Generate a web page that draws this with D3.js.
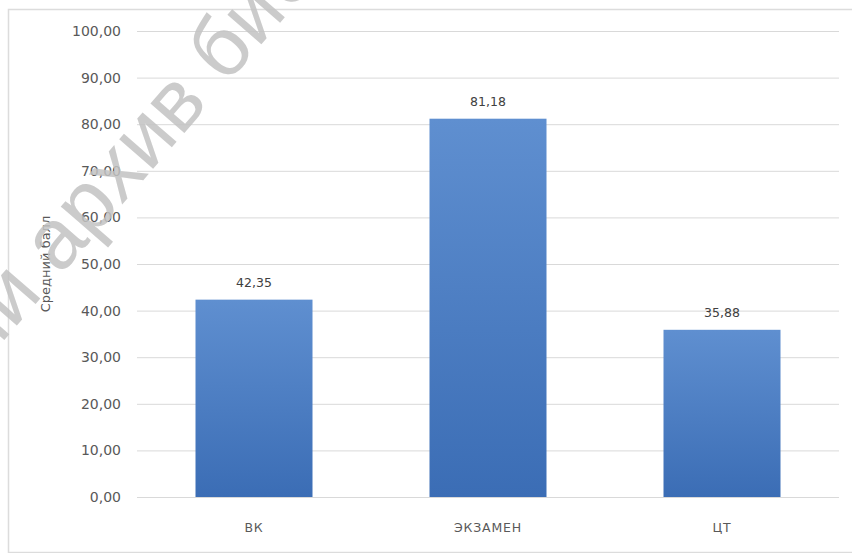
<!DOCTYPE html>
<html>
<head>
<meta charset="utf-8">
<script src="https://cdn.jsdelivr.net/npm/d3@7"></script>
<style>
  body { margin: 0; background: #fff; }
  svg { display: block; }
</style>
</head>
<body>
<svg id="chart" width="852" height="553"></svg>
<script>
const categories = ['ВК', 'ЭКЗАМЕН', 'ЦТ'];
const values = [42.35, 81.18, 35.88];
const yTicks = [0, 10, 20, 30, 40, 50, 60, 70, 80, 90, 100];
const yTitle = 'Средний балл';
const watermarkLeft = 'Электронный';
const watermarkRight = 'архив библиотеки';

const width = 852;
const height = 553;
const margin = { top: 31, right: 10, bottom: 56, left: 137 };

const svg = d3.select('#chart');
const fmt = v => d3.format('.2f')(v).replace('.', ',');

// outer frame
svg.append('rect')
  .attr('x', 8.5).attr('y', 9.5)
  .attr('width', 900).attr('height', 543)
  .attr('fill', 'none')
  .attr('stroke', '#dcdcdc')
  .attr('stroke-width', 1.5);

const x = d3.scaleBand()
  .domain(categories)
  .range([margin.left, width - margin.right - 3])
  .paddingInner(0.5)
  .paddingOuter(0.25);

const y = d3.scaleLinear()
  .domain([0, 100])
  .range([height - margin.bottom, margin.top]);

// gridlines + tick labels
const yAxis = svg.append('g')
  .attr('transform', `translate(${margin.left},0)`)
  .call(d3.axisLeft(y)
    .tickValues(yTicks)
    .tickSize(-(width - margin.right - 3 - margin.left))
    .tickPadding(16)
    .tickFormat(fmt));
yAxis.select('.domain').remove();
yAxis.selectAll('.tick line').attr('stroke', '#d9d9d9');
yAxis.selectAll('.tick text')
  .attr('fill', '#595959')
  .style('font-family', 'DejaVu Sans, sans-serif')
  .style('font-size', '14px');

const defs = svg.append('defs');
const grad = defs.append('linearGradient')
  .attr('id', 'barGrad')
  .attr('x1', 0).attr('y1', 0).attr('x2', 0).attr('y2', 1);
grad.append('stop').attr('offset', '0%').attr('stop-color', '#5f8fd0');
grad.append('stop').attr('offset', '100%').attr('stop-color', '#3b6db5');

svg.append('g')
  .selectAll('rect')
  .data(values)
  .join('rect')
  .attr('x', (d, i) => x(categories[i]))
  .attr('y', d => y(d))
  .attr('width', x.bandwidth())
  .attr('height', d => y(0) - y(d))
  .attr('fill', 'url(#barGrad)');

// value labels
svg.append('g')
  .selectAll('text')
  .data(values)
  .join('text')
  .attr('x', (d, i) => x(categories[i]) + x.bandwidth() / 2)
  .attr('y', d => y(d) - 13)
  .attr('text-anchor', 'middle')
  .attr('fill', '#404040')
  .style('font-family', 'DejaVu Sans, sans-serif')
  .style('font-size', '12.5px')
  .text(fmt);

// category labels
const xAxis = svg.append('g')
  .attr('transform', `translate(0,${y(0)})`)
  .call(d3.axisBottom(x).tickSize(0).tickPadding(26));
xAxis.select('.domain').remove();
xAxis.selectAll('.tick text')
  .attr('fill', '#595959')
  .style('font-family', 'DejaVu Sans, sans-serif')
  .style('font-size', '12.5px')
  .style('letter-spacing', '0.8px');

// axis title
svg.append('text')
  .attr('transform', 'translate(50,264) rotate(-90)')
  .attr('text-anchor', 'middle')
  .attr('fill', '#595959')
  .style('font-family', 'DejaVu Sans, sans-serif')
  .style('font-size', '13px')
  .text(yTitle);

// watermark of the scan
const wm = svg.append('g')
  .attr('transform', 'translate(60,276) rotate(-49)')
  .attr('fill', '#c2c2c2')
  .attr('fill-opacity', 0.85)
  .style('font-family', 'Liberation Sans, sans-serif')
  .style('font-size', '85px');
wm.append('text').attr('x', -24).attr('text-anchor', 'end').text(watermarkLeft);
wm.append('text').attr('x', 0).text(watermarkRight);
</script>
</body>
</html>
